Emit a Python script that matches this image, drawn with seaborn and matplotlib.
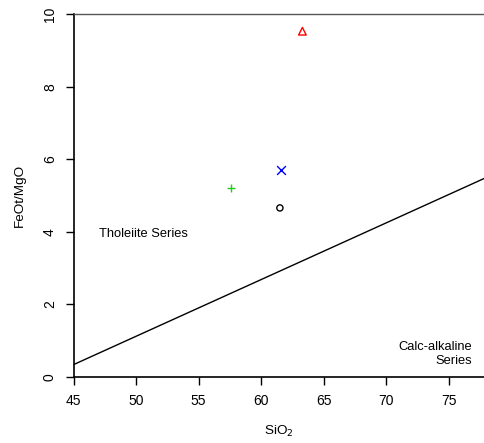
import matplotlib
matplotlib.use("Agg")
import matplotlib.pyplot as plt
import seaborn as sns

# samples
sio2 = [61.5, 61.6, 57.6, 63.3]
feot_mgo = [4.66, 5.70, 5.20, 9.53]
markers = ["o", "x", "+", "^"]
colors = ["black", "blue", "#22CC22", "red"]

# tholeiite / calc-alkaline boundary
line_x = [40, 80]
line_y = [-0.44, 5.81]

x_ticks = [45, 50, 55, 60, 65, 70, 75]
y_ticks = [0, 2, 4, 6, 8, 10]

sns.set_style("ticks", {"text.color": "black", "axes.labelcolor": "black",
                        "xtick.color": "black", "ytick.color": "black"})
plt.rcParams['font.family'] = ['Liberation Sans', 'DejaVu Sans']

fig = plt.figure(figsize=(4.84, 4.43), dpi=100)
ax = fig.add_axes([0.152, 0.149, 0.85, 0.819])

sns.lineplot(x=line_x, y=line_y, color="black", linewidth=1, ax=ax)

for x, y, m, c in zip(sio2, feot_mgo, markers, colors):
    if m == "o":
        sns.scatterplot(x=[x], y=[y], marker=m, s=20, fc="none", ec=c, linewidth=1, ax=ax, zorder=3)
    elif m == "^":
        sns.scatterplot(x=[x], y=[y], marker=m, s=30, fc="none", ec=c, linewidth=1, ax=ax, zorder=3)
    else:
        sns.scatterplot(x=[x], y=[y], marker=m, s=40, color=c, linewidth=1, ax=ax, zorder=3)

ax.text(47.0, 3.94, "Tholeiite Series", fontsize=9.3, ha="left", va="center", color="black")
ax.text(76.9, 0.63, "Calc-alkaline\nSeries", fontsize=9.3, ha="right", va="center", color="black")

ax.set_xlim(45, 77.9)
ax.set_ylim(0, 10)
ax.set_xticks(x_ticks)
ax.set_yticks(y_ticks)
ax.tick_params(labelsize=10, length=6, width=1, direction="out", color="black",
               labelcolor="black", pad=6)
for lab in ax.get_yticklabels():
    lab.set_rotation(90)
    lab.set_va("center")
ax.set_xlabel("SiO$_2$", fontsize=9.7, labelpad=12, color="black")
ax.set_ylabel("FeOt/MgO", fontsize=9.7, labelpad=12, color="black")

sns.despine(ax=ax, right=True, top=False)
for side in ["left", "bottom"]:
    ax.spines[side].set_linewidth(1.2)
    ax.spines[side].set_color("black")
ax.spines["top"].set_linewidth(1)
ax.spines["top"].set_color("#555555")

plt.savefig("out.png", dpi=100)
